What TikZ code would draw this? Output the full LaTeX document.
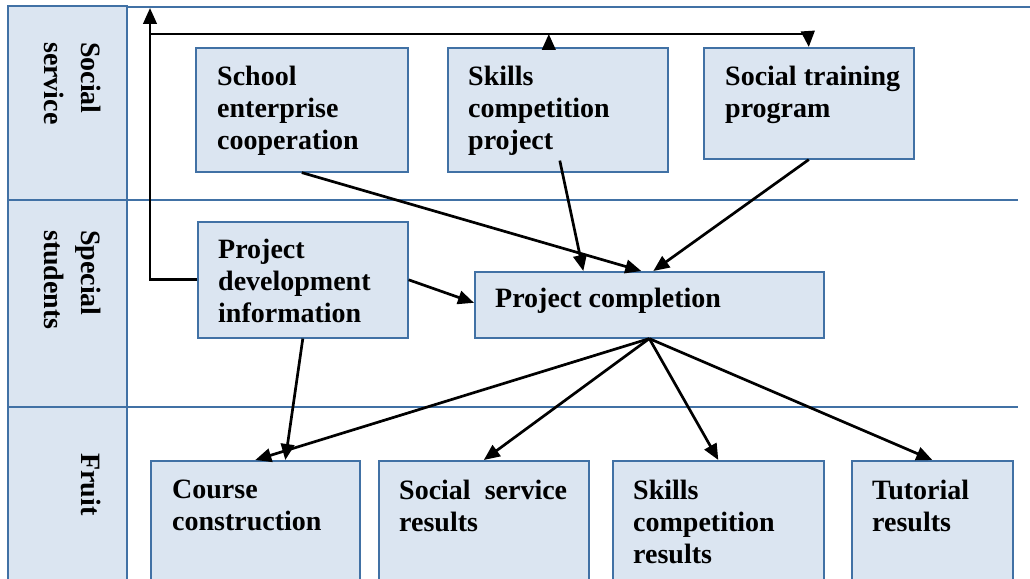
\documentclass[tikz,border=0pt]{standalone}
\usepackage{fontspec}
\setmainfont{Liberation Serif}
\usetikzlibrary{arrows.meta,calc}
\definecolor{cellfill}{RGB}{219,229,241}
\definecolor{cellline}{RGB}{65,113,165}
\begin{document}
\begin{tikzpicture}[x=1pt,y=-1pt,
  box/.style={draw=cellline, line width=1.6pt, fill=cellfill, inner sep=0pt, anchor=north west},
  lane/.style={draw=cellline, line width=1.6pt, fill=cellfill},
  sepline/.style={draw=cellline, line width=1.6pt},
  txt/.style={anchor=north west, inner sep=0pt, align=left, font=\fontsize{28}{32}\selectfont\bfseries},
  lanetxt/.style={anchor=north west, rotate=-90, inner sep=0pt, align=left, font=\fontsize{28}{37}\selectfont\bfseries},
  conn/.style={line width=2.7pt, -{Triangle[length=16pt,width=13.5pt]}},
  link/.style={line width=2.7pt}
]
\useasboundingbox (0,0) rectangle (1030,578);
\clip (0,0) rectangle (1030,578);

% lane separators
\draw[sepline] (127,7) -- (1030,7);
\draw[sepline] (127,200) -- (1018,200);
\draw[sepline] (127,407) -- (1018,407);

% lane headers
\path[lane] (8,6) rectangle (127,200);
\path[lane] (8,200) rectangle (127,407);
\path[lane] (8,407) rectangle (127,600);
\node[lanetxt] (l1) at (101,42) {Social\\service};
\node[lanetxt] (l2) at (101,230) {Special\\students};
\node[lanetxt] (l3) at (101,453) {Fruit};

% boxes
\node[box, minimum width=212pt, minimum height=124pt] (sec) at (195,47) {};
\node[box, minimum width=220pt, minimum height=124pt] (scp) at (447,47) {};
\node[box, minimum width=210pt, minimum height=111pt] (stp) at (703,47) {};
\node[box, minimum width=210pt, minimum height=116pt] (pdi) at (197,221) {};
\node[box, minimum width=349pt, minimum height=66pt] (pc) at (474,271) {};
\node[box, minimum width=209pt, minimum height=160pt] (cc) at (150,460) {};
\node[box, minimum width=210pt, minimum height=160pt] (ssr) at (378,460) {};
\node[box, minimum width=211pt, minimum height=160pt] (scr) at (612,460) {};
\node[box, minimum width=161pt, minimum height=160pt] (tr) at (851,460) {};

% texts
\node[txt] (secT) at ($(sec.north west)+(22,19)$) {School\\enterprise\\cooperation};
\node[txt] (scpT) at ($(scp.north west)+(21,19)$) {Skills\\competition\\project};
\node[txt] (stpT) at ($(stp.north west)+(22,19)$) {Social training\\program};
\node[txt] (pdiT) at ($(pdi.north west)+(21,18)$) {Project\\development\\information};
\node[txt] (pcT) at ($(pc.north west)+(21,17)$) {Project completion};
\node[txt] (ccT) at ($(cc.north west)+(22,20)$) {Course\\construction};
\node[txt] (ssrT) at ($(ssr.north west)+(21,20)$) {Social\hspace{0.5em}service\\results};
\node[txt] (scrT) at ($(scr.north west)+(21,20)$) {Skills\\competition\\results};
\node[txt] (trT) at ($(tr.north west)+(21,20)$) {Tutorial\\results};

% feedback loop
\coordinate (topend) at (150,8);
\coordinate (barL) at (150,34);
\coordinate (barR) at (808,34);
\draw[conn] (pdi.west) -| (topend);
\draw[link] (barL) -- (barR);
\draw[conn] ($(scp.north)+(-9,0)$) -- ($(scp.north)+(-9,-13)$);
\draw[conn] (barR) -- (stp.north);

% connectors
\draw[conn] (sec.south) -- ($(pc.north)+(-8,0)$);
\draw[conn] ($(scp.south)+(2,-12)$) -- ($(pc.north)+(-66,0)$);
\draw[conn] (stp.south) -- ($(pc.north)+(4,0)$);
\draw[conn] (pdi.east) -- ($(pc.west)+(0,-2)$);
\draw[conn] (pdi.south) -- ($(cc.north)+(30,0)$);
\draw[conn] (pc.south) -- (cc.north);
\draw[conn] (pc.south) -- (ssr.north);
\draw[conn] (pc.south) -- (scr.north);
\draw[conn] (pc.south) -- (tr.north);
\end{tikzpicture}
\end{document}
